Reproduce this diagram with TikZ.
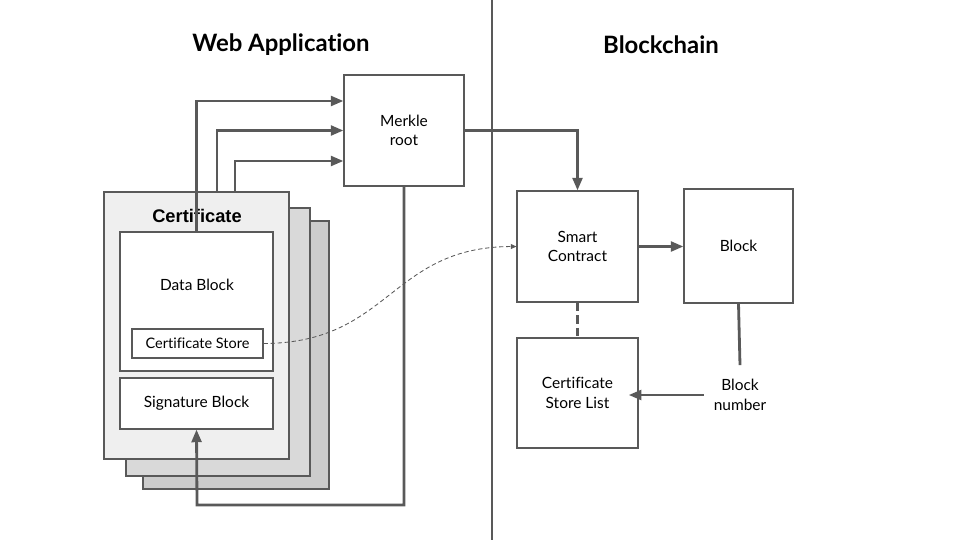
\documentclass[tikz,border=0pt]{standalone}
\usepackage{fontspec}
\setmainfont{Lato}[Ligatures=NoCommon]
\newfontfamily\arialfont{Liberation Sans}
\usepackage{tikz}
\usetikzlibrary{positioning, arrows.meta}

\definecolor{linegray}{HTML}{595959}
\definecolor{cardA}{HTML}{EFEFEF}
\definecolor{cardB}{HTML}{D9D9D9}
\definecolor{cardC}{HTML}{CCCCCC}

\tikzset{
    box/.style={draw=linegray, line width=0.8pt, fill=white, align=center, font=\fontsize{11}{14}\selectfont, inner sep=0pt},
    card/.style={draw=linegray, line width=0.8pt, inner sep=0pt},
    arr/.style={draw=linegray, line width=2pt, -{Triangle[length=9pt,width=7pt]}},
    conn/.style={draw=linegray, line width=2pt},
    title/.style={font=\fontsize{17}{20}\selectfont\bfseries}
}

\begin{document}
\begin{tikzpicture}[x=0.025cm, y=-0.025cm]
        \useasboundingbox (0,0) rectangle (960,540);
        \fill[white] (0,0) rectangle (960,540);

        \node[title] (webtitle) at (281,45) {Web Application};
        \node[title] (chaintitle) at (661,45) {Blockchain};
        \draw[linegray, line width=0.8pt] (492,0) -- (492,540);

        % certificate stack
        \node[card, fill=cardC, minimum width=4.65cm, minimum height=6.7cm] (card3) at (236,355) {};
        \node[card, fill=cardB, minimum width=4.6cm, minimum height=6.7cm] (card2) at (218,342) {};
        \node[card, fill=cardA, minimum width=4.625cm, minimum height=6.675cm] (cert) at (196.5,325.5) {};
        \node[font=\arialfont\fontsize{13}{15}\selectfont\bfseries] (certlabel) at (197,216) {Certificate};

        \node[box, minimum width=3.825cm, minimum height=3.475cm] (data) at (196.5,301.5) {};
        \node[font=\fontsize{11}{14}\selectfont] (datalabel) at (197,285) {Data Block};
        \node[box, font=\fontsize{10.3}{12}\selectfont, minimum width=3.275cm, minimum height=0.725cm] (store) at (197.5,343.5) {Certificate Store};
        \node[box, minimum width=3.825cm, minimum height=1.275cm] (sig) at (196.5,403.5) {Signature Block};

        \node[box, minimum width=3cm, minimum height=2.775cm] (merkle) at (404,130.5) {Merkle\\root};

        \node[box, minimum width=3.025cm, minimum height=2.775cm] (smart) at (577.5,246.5) {Smart\\Contract};
        \node[box, minimum width=2.725cm, minimum height=2.85cm] (block) at (738.5,246) {Block};
        \node[box, minimum width=3.025cm, minimum height=2.75cm] (list) at (577.5,393) {Certificate\\Store List};
        \node[align=center, font=\fontsize{11}{14}\selectfont, inner sep=0pt] (bnum) at (740,395) {Block\\number};

        % hashes into the merkle root
        \draw[arr] (data.north) |- (merkle.west |- 0,101);
        \draw[arr] (cert.north -| 217,0) |- (merkle.west);
        \draw[arr] (cert.north -| 235,0) |- (merkle.west |- 0,161);

        \coordinate (loop) at (197,505);
        \draw[arr] (merkle.south) |- (loop) -- (sig.south);

        \draw[arr] (merkle.east) -| (smart.north);
        \draw[arr] (smart.east) -- (smart.east -| block.west);
        \draw[linegray, line width=2pt, dash pattern=on 6pt off 3pt] (smart.south) -- (list.north);
        \draw[conn] (block.south) -- ([yshift=10pt]bnum.north);
        \draw[arr] ([xshift=-7pt]bnum.west) -- ([xshift=-7pt]bnum.west -| list.east);

        \draw[linegray, densely dashed, line width=0.6pt, -{Triangle[length=4pt,width=3.5pt]}]
            (store.east) .. controls (390,343) and (390,247) .. (smart.west);

    \end{tikzpicture}
\end{document}
